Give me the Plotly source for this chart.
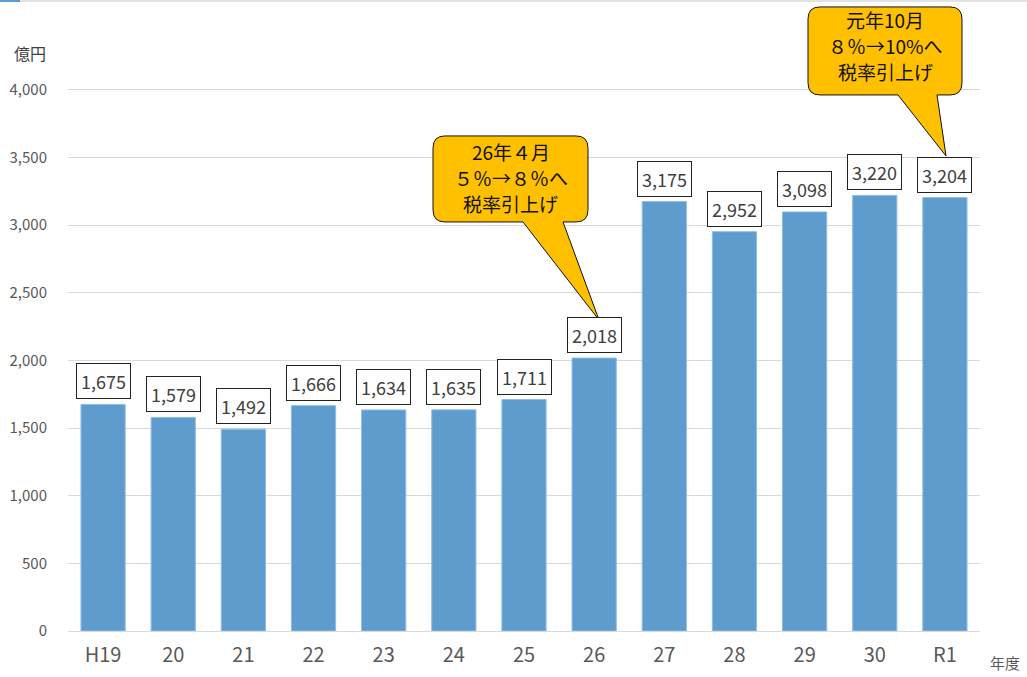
import plotly.graph_objects as go

categories = ["H19", "20", "21", "22", "23", "24", "25", "26", "27", "28", "29", "30", "R1"]
values = [1675, 1579, 1492, 1666, 1634, 1635, 1711, 2018, 3175, 2952, 3098, 3220, 3204]
y_ticks = [0, 500, 1000, 1500, 2000, 2500, 3000, 3500, 4000]
callout_lines = [["26年４月", "５％→８％へ", "税率引上げ"], ["元年10月", "８％→10%へ", "税率引上げ"]]

FONT = "Noto Sans CJK JP, Noto Sans, sans-serif"
xs = list(range(len(categories)))

# pixel -> data helpers for annotation geometry (plot: left 68, width 912, zero at 631, 4000 at 90)
def py2y(py):
    return (631 - py) * 4000 / 541

def px2x(px):
    return (px - 68) / 912 * 13 - 0.5

fig = go.Figure()
fig.add_trace(go.Bar(
    x=xs, y=values, width=0.63,
    marker=dict(color="#5E9CCD", line=dict(width=1, color="#8DBCE6")),
    hoverinfo="skip",
))

# value labels in boxes
for x, v in zip(xs, values):
    fig.add_annotation(
        x=x, y=v, xref="x", yref="y", text=f"{v:,}", showarrow=False,
        yanchor="bottom", yshift=5,
        font=dict(family=FONT, size=18, color="#404040"),
        bgcolor="white", bordercolor="#222222", borderwidth=1, borderpad=4,
    )

def bubble(x0, x1, y0, y1, bx0, bx1, tx, ty, rx=0.17, ry=90):
    return (f"M {x0+rx},{y1} L {x1-rx},{y1} Q {x1},{y1} {x1},{y1-ry} "
            f"L {x1},{y0+ry} Q {x1},{y0} {x1-rx},{y0} L {bx1},{y0} L {tx},{ty} "
            f"L {bx0},{y0} L {x0+rx},{y0} Q {x0},{y0} {x0},{y0+ry} "
            f"L {x0},{y1-ry} Q {x0},{y1} {x0+rx},{y1} Z")

callouts = [
    dict(box=(433, 588, 222, 136), base=(523, 563), tip=(599, 320), lines_y=(152, 178, 204)),
    dict(box=(808, 962, 95, 7), base=(898, 937), tip=(946, 156), lines_y=(20, 46, 72)),
]
for c, lines in zip(callouts, callout_lines):
    x0, x1 = px2x(c["box"][0]), px2x(c["box"][1])
    y0, y1 = py2y(c["box"][2]), py2y(c["box"][3])
    fig.add_shape(type="path", xref="x", yref="y",
                  path=bubble(x0, x1, y0, y1, px2x(c["base"][0]), px2x(c["base"][1]),
                              px2x(c["tip"][0]), py2y(c["tip"][1])),
                  fillcolor="#FFC000", line=dict(color="#111111", width=1), layer="above")
    for txt, ly in zip(lines, c["lines_y"]):
        fig.add_annotation(x=(x0 + x1) / 2, y=py2y(ly), xref="x", yref="y", text=txt,
                           showarrow=False, font=dict(family=FONT, size=19, color="#111111"),
                           align="center", yanchor="middle")

fig.update_layout(
    width=1027, height=677,
    margin=dict(l=68, r=47, t=0, b=46),
    paper_bgcolor="white", plot_bgcolor="white",
    showlegend=False,
    font=dict(family=FONT, color="#595959"),
    xaxis=dict(range=[-0.5, 12.5], tickvals=xs, ticktext=categories,
               showgrid=False, zeroline=False, showline=False, ticks="",
               tickfont=dict(size=20, color="#595959"), ticklabelstandoff=10,
               fixedrange=True),
    yaxis=dict(range=[0, 4665], tickvals=y_ticks, tickformat=",",
               showgrid=True, gridcolor="#D9D9D9", gridwidth=1,
               zeroline=True, zerolinecolor="#D9D9D9", zerolinewidth=1,
               showline=False, ticks="",
               tickfont=dict(size=15, color="#595959"), ticklabelstandoff=20,
               fixedrange=True),
)

fig.add_annotation(xref="paper", yref="paper", x=(30 - 68) / 912, y=(631 - 53) / 631,
                   yanchor="middle", xanchor="center", text="億円", showarrow=False,
                   font=dict(family=FONT, size=16, color="#404040"))
fig.add_annotation(xref="paper", yref="paper", x=(1005 - 68) / 912, y=-(663 - 631) / 631,
                   yanchor="middle", xanchor="center", text="年度", showarrow=False,
                   font=dict(family=FONT, size=15, color="#595959"))

# thin top strip
fig.add_shape(type="rect", xref="paper", yref="paper", x0=-68 / 912, x1=(1027 - 68) / 912,
              y0=1 - 0 / 631, y1=1 - 2 / 631, fillcolor="#E3E3E3", line=dict(width=0))
fig.add_shape(type="rect", xref="paper", yref="paper", x0=-68 / 912, x1=(20 - 68) / 912,
              y0=1 - 0 / 631, y1=1 - 2 / 631, fillcolor="#5B9BD5", line=dict(width=0))

fig.write_html("out.html", config={"displayModeBar": False},
               post_script="document.body.style.margin='0';")
